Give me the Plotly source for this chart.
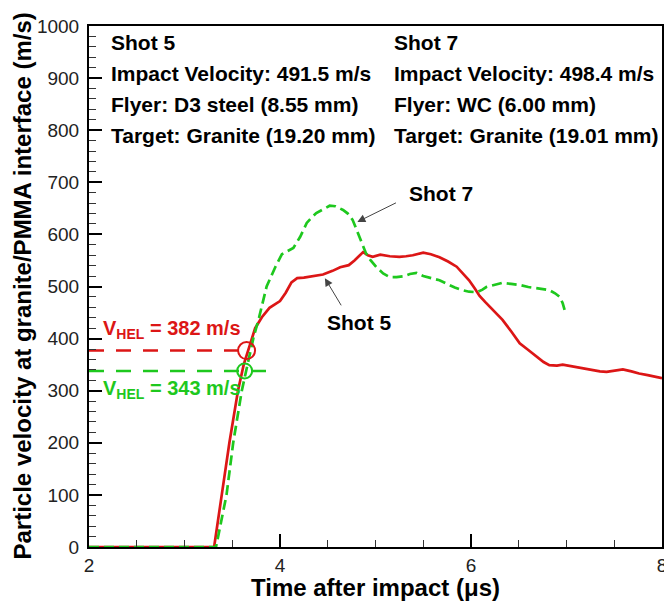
import plotly.graph_objects as go

# ---------------- data ----------------
shot5_time = [2.0, 3.31, 3.39, 3.47, 3.56, 3.62, 3.68, 3.74, 3.81, 3.89, 4.0, 4.06, 4.12, 4.18,
              4.25, 4.31, 4.38, 4.45, 4.55, 4.63, 4.72, 4.78, 4.87, 4.92, 4.97, 5.05, 5.15,
              5.25, 5.32, 5.39, 5.5, 5.58, 5.67, 5.76, 5.85, 5.92, 5.98, 6.04, 6.09, 6.15,
              6.25, 6.33, 6.42, 6.51, 6.6, 6.69, 6.76, 6.82, 6.9, 6.96, 7.05, 7.14, 7.25,
              7.35, 7.42, 7.5, 7.59, 7.68, 7.76, 7.85, 7.97, 8.0]
shot5_velocity = [0, 0, 100, 200, 300, 350, 385, 420, 441, 459, 472, 488, 508, 516,
                  517, 519, 521, 523, 530, 537, 541, 550, 566, 560, 557, 561, 558,
                  557, 558, 560, 565, 562, 556, 548, 538, 525, 512, 496, 482, 470,
                  452, 436, 414, 391, 378, 365, 355, 349, 348, 350, 347, 343, 340,
                  337, 336, 339, 341, 337, 333, 330, 325, 324]

shot7_time = [2.0, 3.33, 3.44, 3.51, 3.60, 3.65, 3.72, 3.78, 3.86, 3.95, 4.02, 4.08, 4.14,
              4.21, 4.28, 4.33, 4.38, 4.45, 4.52, 4.58, 4.62, 4.66, 4.71, 4.76, 4.8, 4.83,
              4.87, 4.9, 4.95, 5.01, 5.08, 5.15, 5.22, 5.3, 5.36, 5.43, 5.5, 5.58, 5.67,
              5.75, 5.83, 5.91, 5.98, 6.06, 6.12, 6.16, 6.25, 6.33, 6.42, 6.51, 6.6, 6.69,
              6.76, 6.82, 6.88, 6.93, 6.96, 6.98]
shot7_velocity = [0, 0, 100, 200, 300, 343, 400, 440, 500, 537, 562, 568, 574,
                  595, 622, 632, 641, 648, 655, 654, 650, 647, 640, 628, 610, 595,
                  578, 564, 550, 537, 525, 518, 518, 520, 524, 526, 520, 516, 512,
                  505, 498, 493, 490, 489, 494, 499, 503, 507, 505, 503, 499, 497,
                  495, 493, 487, 480, 468, 455]

# HEL markers: [shot 5, shot 7]
hel_line_value = [377, 338]
hel_line_start = [2.0, 2.0]
hel_line_end = [3.66, 3.95]
hel_circle_time = [3.65, 3.63]
hel_labels = ["V<sub>HEL</sub> = 382 m/s", "V<sub>HEL</sub> = 343 m/s"]

info_shot5 = ["Shot 5", "Impact Velocity: 491.5 m/s", "Flyer: D3 steel (8.55 mm)",
              "Target: Granite (19.20 mm)"]
info_shot7 = ["Shot 7", "Impact Velocity: 498.4 m/s", "Flyer: WC (6.00 mm)",
              "Target: Granite (19.01 mm)"]

x_ticks = [2, 4, 6, 8]
y_ticks = list(range(0, 1001, 100))

# ---------------- styles ----------------
RED = "#dc1616"
GREEN = "#1ec81e"
FONT = "Arial, Liberation Sans, sans-serif"

fig = go.Figure()

fig.add_trace(go.Scatter(x=shot5_time, y=shot5_velocity, mode="lines",
                         line=dict(color=RED, width=2.7), showlegend=False))
fig.add_trace(go.Scatter(x=shot7_time, y=shot7_velocity, mode="lines",
                         line=dict(color=GREEN, width=2.7, dash="10px,5px"), showlegend=False))

colors = [RED, GREEN]
sizes = [17, 15]
for i in range(2):
    fig.add_trace(go.Scatter(x=[hel_line_start[i], hel_line_end[i]],
                             y=[hel_line_value[i], hel_line_value[i]], mode="lines",
                             line=dict(color=colors[i], width=2.5, dash="15px,12px"),
                             showlegend=False))
    fig.add_trace(go.Scatter(x=[hel_circle_time[i]], y=[hel_line_value[i]], mode="markers",
                             marker=dict(symbol="circle-open", size=sizes[i], color=colors[i],
                                         line=dict(color=colors[i], width=2)),
                             showlegend=False))

annotations = []
# info blocks
for j, line in enumerate(info_shot5):
    annotations.append(dict(xref="paper", yref="paper", x=0, y=1, xshift=20, yshift=-16 - 31 * j,
                            xanchor="left", yanchor="middle", text="<b>%s</b>" % line,
                            showarrow=False, font=dict(family=FONT, size=21, color="black")))
for j, line in enumerate(info_shot7):
    annotations.append(dict(xref="paper", yref="paper", x=0, y=1, xshift=303, yshift=-16 - 31 * j,
                            xanchor="left", yanchor="middle", text="<b>%s</b>" % line,
                            showarrow=False, font=dict(family=FONT, size=21, color="black")))

# HEL labels
annotations.append(dict(x=2.13, y=418, xref="x", yref="y", xanchor="left", yanchor="middle",
                        text="<b>%s</b>" % hel_labels[0], showarrow=False,
                        font=dict(family=FONT, size=20, color=RED)))
annotations.append(dict(x=2.13, y=302, xref="x", yref="y", xanchor="left", yanchor="middle",
                        text="<b>%s</b>" % hel_labels[1], showarrow=False,
                        font=dict(family=FONT, size=20, color=GREEN)))

# Shot labels with arrows
annotations.append(dict(x=5.69, y=679, xref="x", yref="y", text="<b>Shot 7</b>", showarrow=False,
                        font=dict(family=FONT, size=21, color="black")))
annotations.append(dict(x=4.81, y=624, ax=5.23, ay=662, xref="x", yref="y", axref="x", ayref="y",
                        text="", showarrow=True, arrowhead=2, arrowsize=1.6, arrowwidth=1,
                        arrowcolor="#444"))
annotations.append(dict(x=4.83, y=430, xref="x", yref="y", text="<b>Shot 5</b>", showarrow=False,
                        font=dict(family=FONT, size=21, color="black")))
annotations.append(dict(x=4.47, y=516, ax=4.65, ay=461, xref="x", yref="y", axref="x", ayref="y",
                        text="", showarrow=True, arrowhead=2, arrowsize=1.6, arrowwidth=1,
                        arrowcolor="#444"))

# axis titles
annotations.append(dict(xref="paper", yref="paper", x=0.5, y=0, yshift=-40, yanchor="middle",
                        text="<b>Time after impact (\u03bcs)</b>", showarrow=False,
                        font=dict(family=FONT, size=24, color="black")))
annotations.append(dict(xref="paper", yref="paper", x=0, y=0.5, xshift=-67, xanchor="center",
                        text="<b>Particle velocity at granite/PMMA interface (m/s)</b>",
                        textangle=-90, showarrow=False,
                        font=dict(family=FONT, size=24, color="black")))

fig.update_layout(
    width=664, height=604,
    margin=dict(l=89, r=2, t=26, b=57, autoexpand=False),
    plot_bgcolor="white", paper_bgcolor="white",
    annotations=annotations,
    font=dict(family=FONT, color="black"),
    xaxis=dict(range=[2, 8], tickvals=x_ticks, ticktext=[str(v) for v in x_ticks],
               showgrid=False, zeroline=False, showline=True, linecolor="black", linewidth=2,
               mirror=True, ticks="inside", ticklen=13, tickwidth=2, tickcolor="black",
               minor=dict(dtick=0.5, ticks="inside", ticklen=7, tickwidth=1, tickcolor="#333"),
               ticklabeloverflow="allow", automargin=False,
               tickfont=dict(family=FONT, size=19, color="#222")),
    yaxis=dict(range=[0, 1000], tickvals=y_ticks, ticktext=[str(v) for v in y_ticks],
               showgrid=False, zeroline=False, showline=True, linecolor="black", linewidth=2,
               mirror=True, ticks="inside", ticklen=13, tickwidth=2, tickcolor="black",
               minor=dict(dtick=20, ticks="inside", ticklen=7, tickwidth=1, tickcolor="#333"),
               ticklabelstandoff=4, ticklabeloverflow="allow", automargin=False,
               tickfont=dict(family=FONT, size=19, color="#222")),
)

fig.write_html("out.html", config={"displayModeBar": False},
               post_script="document.body.style.margin='0';document.body.style.overflow='hidden';")
